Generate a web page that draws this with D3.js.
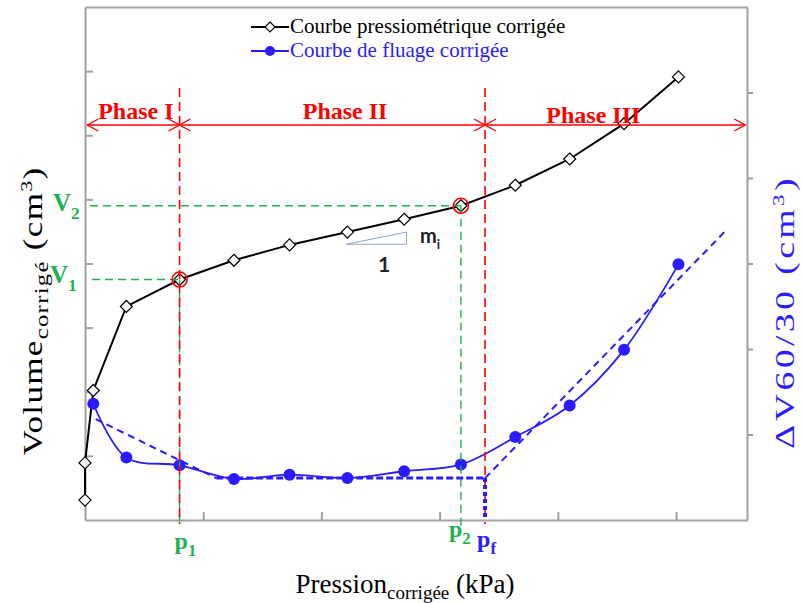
<!DOCTYPE html>
<html>
<head>
<meta charset="utf-8">
<script src="https://cdn.jsdelivr.net/npm/d3@7"></script>
<style>
body { margin: 0; background: #fff; }
svg { display: block; }
</style>
</head>
<body>
<svg width="803" height="603"></svg>
<script>
// pressiometric curve (left axis)
var pressure = [0, 0, 0.07, 0.35, 0.80, 1.26, 1.73, 2.22, 2.70, 3.18, 3.64, 4.10, 4.56, 5.02];
var volume = [0.31, 0.89, 2.02, 3.33, 3.75, 4.05, 4.29, 4.49, 4.69, 4.90, 5.22, 5.63, 6.18, 6.91];

// creep curve (right axis)
var creepPressure = [0.07, 0.35, 0.80, 1.26, 1.73, 2.22, 2.70, 3.18, 3.64, 4.10, 4.56, 5.02];
var creep = [1.36, 0.73, 0.64, 0.48, 0.53, 0.49, 0.57, 0.65, 0.97, 1.34, 1.99, 2.99];

// characteristic points
var p1 = 0.80, p2 = 3.18, pf = 3.384;
var v1 = 3.75, v2 = 4.90;

var phaseNames = ["Phase I", "Phase II", "Phase III"];
var phaseBounds = [0.02, p1, pf, 5.585];
var phaseLabelX = [0.43, 2.20, 4.30];

// creep fitting lines (right axis units)
var fitFirst = [[0.09, 1.18], [1.11, 0.49]];
var fitFlat = [[1.11, 0.49], [pf, 0.49]];
var fitDrop = [[pf, 0.49], [pf, 0]];
var fitLast = [[pf, 0.49], [5.41, 3.37]];
var slopeTri = [[2.21, 4.30], [2.72, 4.30], [2.72, 4.49]];

var xTicks = [1, 2, 3, 4, 5];
var yLeftTicks = [1, 2, 3, 4, 5, 6, 7];
var yRightTicks = [1, 2, 3, 4, 5];

var svg = d3.select("svg");
var serif = "'Liberation Serif', 'Times New Roman', serif";
var red = "#ff0000", green = "#1fb04f", blue = "#2a1cff", grey = "#a0a0a0";

var x = d3.scaleLinear().domain([0, 5.6]).range([85, 747]);
var yL = d3.scaleLinear().domain([0, 8]).range([520, 7]);
var yR = d3.scaleLinear().domain([0, 6]).range([520, 7]);

// frame + axes
function styleAxis(g) {
  g.selectAll("path, line").attr("stroke", grey).attr("stroke-width", 2);
}
svg.append("g").attr("transform", "translate(0,7)")
  .call(d3.axisTop(x).tickValues([]).tickSizeOuter(0)).call(styleAxis);
svg.append("g").attr("transform", "translate(0,520)")
  .call(d3.axisBottom(x).tickValues(xTicks).tickSizeInner(-8).tickSizeOuter(0).tickFormat("")).call(styleAxis);
svg.append("g").attr("transform", "translate(85,0)")
  .call(d3.axisLeft(yL).tickValues(yLeftTicks).tickSizeInner(-8).tickSizeOuter(0).tickFormat("")).call(styleAxis);
svg.append("g").attr("transform", "translate(747,0)")
  .call(d3.axisRight(yR).tickValues(yRightTicks).tickSizeInner(6).tickSizeOuter(0).tickFormat("")).call(styleAxis);

// curves
var pressData = pressure.map(function(p, i) { return [p, volume[i]]; });
var creepData = creepPressure.map(function(p, i) { return [p, creep[i]]; });

svg.append("path")
  .datum(pressData)
  .attr("fill", "none").attr("stroke", "#000").attr("stroke-width", 2)
  .attr("d", d3.line().x(function(d) { return x(d[0]); }).y(function(d) { return yL(d[1]); }));

svg.append("path")
  .datum(creepData)
  .attr("fill", "none").attr("stroke", blue).attr("stroke-width", 1.8)
  .attr("d", d3.line().curve(d3.curveCatmullRom.alpha(0.5))
    .x(function(d) { return x(d[0]); }).y(function(d) { return yR(d[1]); }));

var diamond = "M0,-6L6,0L0,6L-6,0Z";
svg.append("g").selectAll("path")
  .data(pressData)
  .enter().append("path")
  .attr("d", diamond)
  .attr("transform", function(d) { return "translate(" + x(d[0]) + "," + yL(d[1]) + ")"; })
  .attr("fill", "#fff").attr("stroke", "#000").attr("stroke-width", 1.2);

svg.append("g").selectAll("circle")
  .data(creepData)
  .enter().append("circle")
  .attr("cx", function(d) { return x(d[0]); })
  .attr("cy", function(d) { return yR(d[1]); })
  .attr("r", 6)
  .attr("fill", blue);

// reference lines
function vline(px, y1, y2, color, w, dash) {
  svg.append("line").attr("x1", x(px)).attr("x2", x(px)).attr("y1", y1).attr("y2", y2)
    .attr("stroke", color).attr("stroke-width", w).attr("stroke-dasharray", dash);
}
function hline(py, x1, x2, color, w, dash) {
  svg.append("line").attr("x1", x1).attr("x2", x2).attr("y1", py).attr("y2", py)
    .attr("stroke", color).attr("stroke-width", w).attr("stroke-dasharray", dash);
}
hline(yL(v1), 92, x(p1), green, 1.4, "8,5");
hline(yL(v2), 90, x(p2), green, 1.4, "8,5");
vline(p1, yL(v1), 524, green, 1.4, "8,5");
vline(p2, yL(v2), 527, green, 1.4, "8,5");
vline(p1, 88, 524, red, 1.6, "9,5");
vline(pf, 88, 524, red, 1.6, "9,5");

// creep fitting lines
var fitLine = d3.line().x(function(d) { return x(d[0]); }).y(function(d) { return yR(d[1]); });
svg.append("path").datum(fitFirst).attr("d", fitLine)
  .attr("fill", "none").attr("stroke", blue).attr("stroke-width", 2).attr("stroke-dasharray", "7,5");
svg.append("path").datum(fitFlat).attr("d", fitLine)
  .attr("fill", "none").attr("stroke", blue).attr("stroke-width", 3).attr("stroke-dasharray", "7,3");
svg.append("path").datum(fitLast).attr("d", fitLine)
  .attr("fill", "none").attr("stroke", blue).attr("stroke-width", 2).attr("stroke-dasharray", "7,5");
svg.append("path").datum(fitDrop).attr("d", fitLine)
  .attr("fill", "none").attr("stroke", blue).attr("stroke-width", 4).attr("stroke-dasharray", "4,3");

// red circles on V1 / V2
svg.append("g").selectAll("circle")
  .data([[p1, v1], [p2, v2]])
  .enter().append("circle")
  .attr("cx", function(d) { return x(d[0]); })
  .attr("cy", function(d) { return yL(d[1]); })
  .attr("r", 7.5)
  .attr("fill", "none").attr("stroke", red).attr("stroke-width", 1.6);

// slope triangle
svg.append("path")
  .datum(slopeTri)
  .attr("d", d3.line().x(function(d) { return x(d[0]); }).y(function(d) { return yL(d[1]); }).curve(d3.curveLinearClosed))
  .attr("fill", "none").attr("stroke", "#8fa3c8").attr("stroke-width", 1);
var mi = svg.append("text").attr("x", 420).attr("y", 243)
  .attr("font-family", "Lato, 'Open Sans', sans-serif").attr("font-weight", "bold").attr("font-size", 20).attr("fill", "#222");
mi.append("tspan").text("m");
mi.append("tspan").attr("dy", 6).attr("font-size", 13).text("i");
svg.append("text").attr("x", 384).attr("y", 272).attr("text-anchor", "middle")
  .attr("font-family", "Lato, 'Open Sans', sans-serif").attr("font-weight", "bold").attr("font-size", 21).attr("fill", "#222")
  .text("1");

// phase arrows
var arrowY = 125;
phaseNames.forEach(function(name, i) {
  var a = x(phaseBounds[i]), b = x(phaseBounds[i + 1]);
  svg.append("line").attr("x1", a).attr("x2", b).attr("y1", arrowY).attr("y2", arrowY)
    .attr("stroke", red).attr("stroke-width", 1.4);
  svg.append("path")
    .attr("d", "M" + (a + 11) + "," + (arrowY - 6) + "L" + a + "," + arrowY + "L" + (a + 11) + "," + (arrowY + 6) +
               "M" + (b - 11) + "," + (arrowY - 6) + "L" + b + "," + arrowY + "L" + (b - 11) + "," + (arrowY + 6))
    .attr("fill", "none").attr("stroke", red).attr("stroke-width", 1.4);
  svg.append("text")
    .attr("x", x(phaseLabelX[i])).attr("y", i == 2 ? 123 : 119)
    .attr("text-anchor", "middle")
    .attr("font-family", serif).attr("font-weight", "bold").attr("font-size", 24).attr("fill", red)
    .text(name);
});

// subscripted labels
function subLabel(px, py, main, sub, color, size, anchor) {
  var t = svg.append("text").attr("x", px).attr("y", py)
    .attr("text-anchor", anchor || "start")
    .attr("font-family", serif).attr("font-weight", "bold").attr("font-size", size).attr("fill", color);
  t.append("tspan").text(main);
  t.append("tspan").attr("dy", size * 0.3).attr("font-size", size * 0.7).text(sub);
  return t;
}
subLabel(50, 283, "V", "1", green, 25);
subLabel(53, 211, "V", "2", green, 25);
subLabel(x(p1) - 5, 549, "p", "1", green, 24);
subLabel(x(p2) - 12, 537, "p", "2", green, 24);
subLabel(x(pf) - 8, 547, "p", "f", blue, 24);

// axis titles
var xt = svg.append("text").attr("x", 405).attr("y", 593).attr("text-anchor", "middle")
  .attr("font-family", serif).attr("font-size", 27).attr("fill", "#000");
xt.append("tspan").text("Pression");
xt.append("tspan").attr("dy", 6).attr("font-size", 19).text("corrigée");
xt.append("tspan").attr("dy", -6).text(" (kPa)");

var yt = svg.append("text").attr("transform", "translate(42,311) rotate(-90) scale(1.3,1)")
  .attr("text-anchor", "middle").attr("letter-spacing", 1)
  .attr("font-family", serif).attr("font-size", 27).attr("fill", "#000");
yt.append("tspan").text("Volume");
yt.append("tspan").attr("dy", 6).attr("font-size", 19).text("corrigé");
yt.append("tspan").attr("dy", -6).text(" (cm");
yt.append("tspan").attr("dy", -10).attr("font-size", 17).text("3");
yt.append("tspan").attr("dy", 10).text(")");

var rt = svg.append("text").attr("transform", "translate(794,312) rotate(-90) scale(1.35,1)")
  .attr("text-anchor", "middle").attr("letter-spacing", 2.5)
  .attr("font-family", serif).attr("font-size", 28).attr("fill", blue);
rt.append("tspan").text("ΔV60/30 (cm");
rt.append("tspan").attr("dy", -10).attr("font-size", 17).text("3");
rt.append("tspan").attr("dy", 10).text(")");

// legend
var legend = svg.append("g");
legend.append("line").attr("x1", 251).attr("x2", 289).attr("y1", 27).attr("y2", 27)
  .attr("stroke", "#000").attr("stroke-width", 2);
legend.append("path").attr("d", "M0,-5L5,0L0,5L-5,0Z").attr("transform", "translate(270,27)")
  .attr("fill", "#fff").attr("stroke", "#000").attr("stroke-width", 1.2);
legend.append("text").attr("x", 290).attr("y", 33)
  .attr("font-family", serif).attr("font-size", 21).attr("fill", "#000")
  .text("Courbe pressiométrique corrigée");
legend.append("line").attr("x1", 251).attr("x2", 289).attr("y1", 51).attr("y2", 51)
  .attr("stroke", blue).attr("stroke-width", 2);
legend.append("circle").attr("cx", 270).attr("cy", 51).attr("r", 5).attr("fill", blue);
legend.append("text").attr("x", 290).attr("y", 57)
  .attr("font-family", serif).attr("font-size", 21).attr("fill", blue)
  .text("Courbe de fluage corrigée");
</script>
</body>
</html>
